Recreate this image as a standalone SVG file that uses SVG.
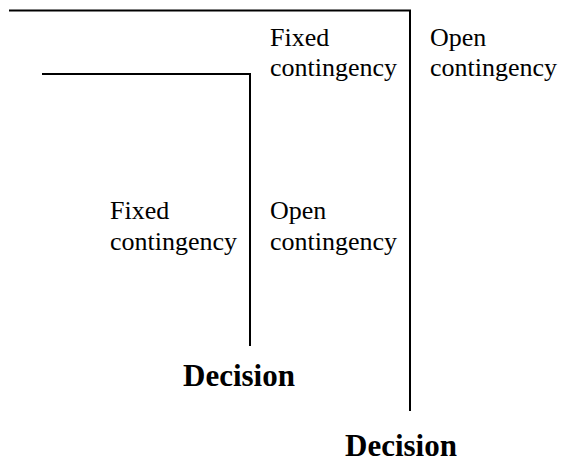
<svg xmlns="http://www.w3.org/2000/svg" width="562" height="462" viewBox="0 0 562 462">
<style>
.ln{fill:none;stroke:#000;stroke-width:2}
.t{font-family:'Times New Roman','Liberation Serif',serif;font-size:26px;fill:#000}
.d{font-family:'Liberation Serif','Times New Roman',serif;font-size:31px;font-weight:bold;fill:#000}
</style>
<rect width="562" height="462" fill="#fff"/>
<g id="connectors">
<polyline class="ln" points="9,10.5 410,10.5 410,411"/>
<polyline class="ln" points="42,74 250,74 250,346"/>
</g>
<g id="outer-fixed"><text class="t" x="270" y="46">Fixed</text><text class="t" x="270" y="76">contingency</text></g>
<g id="outer-open"><text class="t" x="430" y="46">Open</text><text class="t" x="430" y="76">contingency</text></g>
<g id="inner-fixed"><text class="t" x="110" y="219">Fixed</text><text class="t" x="110" y="250">contingency</text></g>
<g id="inner-open"><text class="t" x="270" y="219">Open</text><text class="t" x="270" y="250">contingency</text></g>
<g id="decision-inner"><text class="d" x="183" y="386">Decision</text></g>
<g id="decision-outer"><text class="d" x="345" y="456">Decision</text></g>
</svg>
